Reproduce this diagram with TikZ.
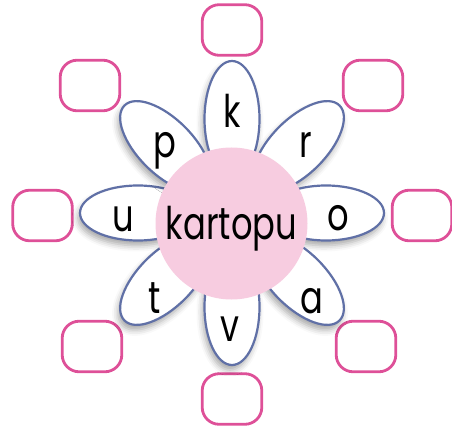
\documentclass[tikz,border=0pt]{standalone}
\usepackage{fontspec}
\setmainfont{Poppins}[FakeStretch=0.75]
\usetikzlibrary{shapes.geometric,shadows.blur}
\definecolor{petalblue}{RGB}{96,112,166}
\definecolor{centerpink}{RGB}{247,204,224}
\definecolor{boxpink}{RGB}{222,80,152}

\begin{document}
\begin{tikzpicture}[x=1pt,y=1pt]

      \useasboundingbox (0,0) rectangle (452,426);

      \begin{scope}[every node/.style={draw=boxpink,line width=2.8pt,rounded corners=17pt,minimum width=59.6pt,minimum height=50.6pt}]
        \node (b1) at (232,396) {};
        \node (b2) at (373,340.5) {};
        \node (b3) at (422,210.5) {};
        \node (b4) at (366,79.5) {};
        \node (b5) at (232,27) {};
        \node (b6) at (92,79.5) {};
        \node (b7) at (42.5,210.5) {};
        \node (b8) at (90,340.5) {};
      \end{scope}

      \begin{scope}[every node/.style={ellipse,draw=petalblue,fill=white,line width=2.2pt,minimum width=116pt,minimum height=55pt,
          blur shadow={shadow xshift=-2pt,shadow yshift=-5pt,shadow blur radius=6pt,shadow opacity=35}}]
        \node[rotate=90]   (p1) at (232,307) {};
        \node[rotate=45]   (p2) at (298.5,279.5) {};
        \node[rotate=0]    (p3) at (326,213) {};
        \node[rotate=-45]  (p4) at (298.5,146.5) {};
        \node[rotate=-90]  (p5) at (232,119) {};
        \node[rotate=-135] (p6) at (165.5,146.5) {};
        \node[rotate=180]  (p7) at (138,213) {};
        \node[rotate=135]  (p8) at (165.5,279.5) {};
      \end{scope}

      \node[circle,fill=centerpink,minimum size=152pt,inner sep=0pt] (hub) at (231.5,202.5) {};

      \begin{scope}[every node/.style={anchor=base,inner sep=0pt,font=\fontsize{45}{54}\selectfont}]
        \node (k) at (232,298) {k};
        \node (r) at (306,268) {r};
        \node (o) at (338,195) {o};
        \node (a) at (312,113) {a};
        \node (v) at (230,85) {v};
        \node (t) at (155,113) {t};
        \node (u) at (123,194) {u};
        \node (p) at (165,268) {p};
        \node (word) at (231.5,186) {kartopu};
      \end{scope}

    \end{tikzpicture}
\end{document}
